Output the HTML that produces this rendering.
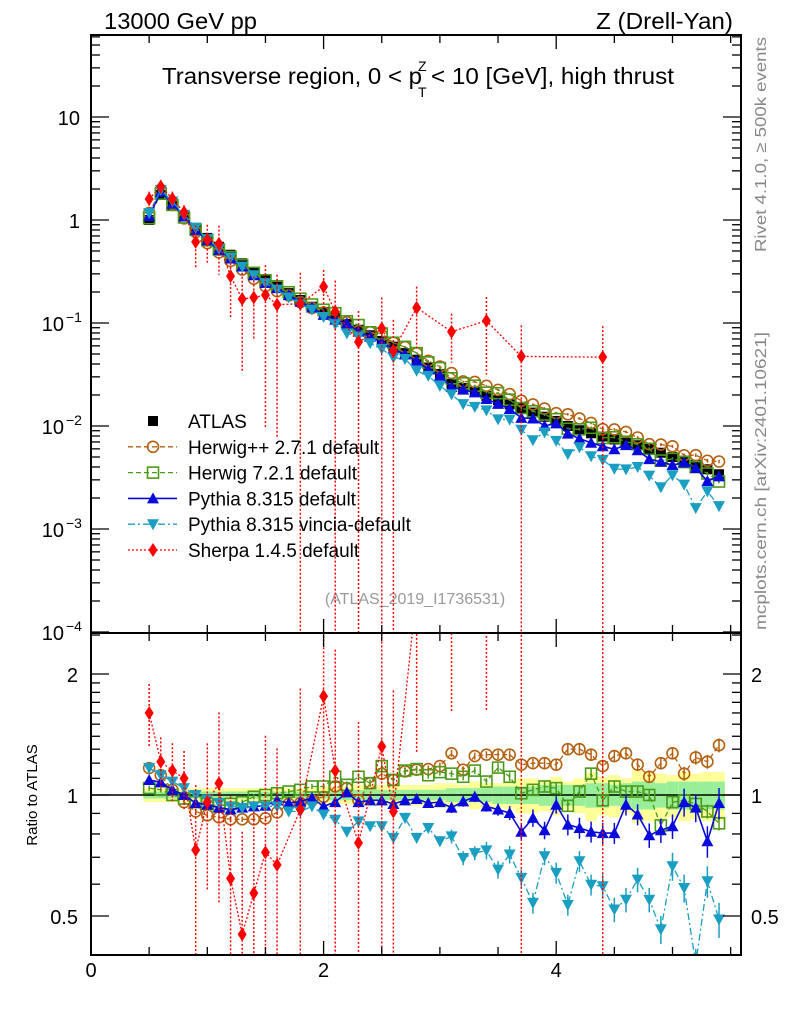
<!DOCTYPE html>
<html><head><meta charset="utf-8"><style>
html,body{margin:0;padding:0;background:#fff;width:786px;height:1024px;overflow:hidden;}
svg{display:block;font-family:"Liberation Sans",Arial,sans-serif;}
</style></head><body>
<svg id="chart" width="786" height="1024" viewBox="0 0 786 1024" xmlns="http://www.w3.org/2000/svg">
<defs>
<clipPath id="clipMain"><rect x="91" y="35" width="650" height="598"/></clipPath>
<clipPath id="clipRat"><rect x="91" y="633" width="650" height="322"/></clipPath>
</defs>
<text x="104" y="29" font-size="23" textLength="153" lengthAdjust="spacingAndGlyphs">13000 GeV pp</text>
<text x="596" y="29" font-size="23" textLength="137" lengthAdjust="spacingAndGlyphs">Z (Drell-Yan)</text>
<g>
<text x="162" y="84" font-size="23" textLength="260" lengthAdjust="spacingAndGlyphs">Transverse region, 0 &lt; p</text>
<text x="418" y="71" font-size="14">Z</text>
<text x="418" y="97" font-size="14">T</text>
<text x="431" y="84" font-size="23" textLength="243" lengthAdjust="spacingAndGlyphs">&lt; 10 [GeV], high thrust</text>
</g>
<text x="415" y="604" font-size="16" fill="#999" text-anchor="middle">(ATLAS_2019_I1736531)</text>
<text transform="translate(766,252) rotate(-90)" font-size="16" fill="#888" textLength="215" lengthAdjust="spacingAndGlyphs">Rivet 4.1.0, ≥ 500k events</text>
<text transform="translate(766,630) rotate(-90)" font-size="16" fill="#888" textLength="298" lengthAdjust="spacingAndGlyphs">mcplots.cern.ch [arXiv:2401.10621]</text>
<text transform="translate(37,795) rotate(-90)" font-size="15" text-anchor="middle">Ratio to ATLAS</text>
<g id="bands" clip-path="url(#clipRat)"></g>
<g id="marks"></g>
<g id="axes"></g>
<g id="legend"></g>
</svg>
<script>
const xCats = [0.5,0.6,0.7,0.8,0.9,1.0,1.1,1.2,1.3,1.4,1.5,1.6,1.7,1.8,1.9,2.0,2.1,2.2,2.3,2.4,2.5,2.6,2.7,2.8,2.9,3.0,3.1,3.2,3.3,3.4,3.5,3.6,3.7,3.8,3.9,4.0,4.1,4.2,4.3,4.4,4.5,4.6,4.7,4.8,4.9,5.0,5.1,5.2,5.3,5.4];
const atlasVals = [1.0,1.75,1.4,1.08,0.84,0.67,0.55,0.46,0.38,0.31,0.26,0.225,0.195,0.167,0.144,0.128,0.112,0.098,0.086,0.076,0.067,0.059,0.051,0.044,0.037,0.032,0.0257,0.0234,0.0214,0.0195,0.0178,0.0162,0.0148,0.0135,0.0123,0.0112,0.0100,0.0091,0.0085,0.0079,0.0074,0.0069,0.0065,0.0060,0.0055,0.0050,0.0046,0.0042,0.0038,0.0034];
const bandInner = [0.02,0.02,0.02,0.02,0.02,0.02,0.02,0.02,0.02,0.02,0.02,0.02,0.02,0.02,0.02,0.02,0.03,0.03,0.03,0.03,0.03,0.03,0.03,0.03,0.03,0.03,0.04,0.04,0.04,0.04,0.05,0.05,0.05,0.05,0.06,0.06,0.06,0.06,0.07,0.07,0.06,0.07,0.08,0.08,0.07,0.08,0.08,0.08,0.08,0.08];
const bandOuter = [0.04,0.04,0.04,0.04,0.04,0.04,0.04,0.04,0.04,0.04,0.04,0.04,0.04,0.04,0.04,0.05,0.05,0.05,0.06,0.06,0.06,0.06,0.06,0.06,0.06,0.07,0.07,0.06,0.08,0.07,0.07,0.08,0.10,0.10,0.09,0.11,0.08,0.10,0.14,0.11,0.12,0.10,0.15,0.14,0.13,0.12,0.14,0.13,0.14,0.14];
const hwppRatio = [1.167,1.12,1.03,0.96,0.91,0.89,0.88,0.87,0.87,0.87,0.875,0.905,0.95,0.955,0.97,0.99,1.05,1.04,0.97,1.07,1.13,1.09,1.145,1.156,1.16,1.18,1.27,1.156,1.25,1.26,1.26,1.26,1.19,1.2,1.2,1.19,1.30,1.30,1.26,1.18,1.25,1.27,1.19,1.11,1.2,1.27,1.13,1.24,1.21,1.33];
const hw7Ratio = [1.04,1.03,1.0,0.98,0.96,0.95,0.94,0.95,0.96,0.99,1.0,1.01,1.02,1.03,1.05,1.05,1.11,1.06,1.11,1.07,1.18,1.09,1.15,1.16,1.12,1.14,1.13,1.11,1.15,1.08,1.17,1.11,1.01,1.03,1.05,1.04,0.94,1.02,1.13,0.97,1.05,1.02,1.02,1.0,0.84,0.96,0.97,0.95,0.91,0.85];
const pyRatio = [1.09,1.075,1.03,1.0,0.955,0.946,0.93,0.92,0.93,0.937,0.94,0.97,0.955,0.964,0.983,0.937,0.96,1.015,0.96,0.97,0.97,0.95,0.97,0.977,0.955,0.96,0.93,0.964,0.99,0.937,0.92,0.902,0.81,0.877,0.817,0.946,0.844,0.828,0.81,0.804,0.804,0.946,0.894,0.794,0.817,0.836,0.96,0.93,0.767,0.955];
const pyErr = [0.02,0.02,0.02,0.02,0.02,0.02,0.02,0.02,0.02,0.02,0.02,0.02,0.02,0.02,0.02,0.02,0.02,0.02,0.02,0.02,0.02,0.02,0.02,0.02,0.025,0.025,0.03,0.03,0.03,0.03,0.035,0.04,0.05,0.05,0.05,0.05,0.06,0.06,0.06,0.06,0.06,0.06,0.06,0.07,0.07,0.07,0.08,0.08,0.09,0.09];
const vinRatio = [1.167,1.12,1.08,1.04,1.0,0.974,0.955,0.937,0.928,0.937,0.937,0.937,0.91,0.91,0.937,0.894,0.868,0.81,0.86,0.836,0.836,0.782,0.877,0.782,0.828,0.767,0.789,0.697,0.717,0.728,0.652,0.711,0.622,0.539,0.704,0.64,0.533,0.684,0.598,0.593,0.519,0.549,0.616,0.549,0.463,0.665,0.587,0.38,0.61,0.49];
const vinErr = [0.02,0.02,0.02,0.02,0.02,0.02,0.02,0.02,0.02,0.02,0.02,0.02,0.02,0.02,0.02,0.02,0.025,0.025,0.025,0.025,0.03,0.03,0.03,0.03,0.03,0.03,0.04,0.04,0.04,0.05,0.05,0.05,0.05,0.06,0.05,0.06,0.06,0.06,0.06,0.07,0.07,0.07,0.07,0.07,0.08,0.08,0.08,0.09,0.09,0.1];
const hwErr = [0.015,0.015,0.015,0.015,0.015,0.015,0.015,0.015,0.015,0.015,0.015,0.015,0.015,0.015,0.015,0.015,0.02,0.02,0.02,0.02,0.02,0.02,0.02,0.02,0.02,0.02,0.02,0.02,0.02,0.02,0.025,0.025,0.025,0.025,0.03,0.03,0.03,0.03,0.03,0.03,0.03,0.03,0.035,0.035,0.035,0.035,0.04,0.04,0.04,0.04];
const sherpaIdx = [0,1,2,3,4,5,6,7,8,9,10,11,13,15,16,18,20,21,23,26,29,32,39];
const sherpaRatio = [1.6,1.21,1.15,1.10,0.73,0.96,1.07,0.62,0.45,0.57,0.72,0.67,0.92,1.76,1.15,0.76,1.32,0.91,3.2,3.2,5.4,3.2,5.9];
const sherpaErr = [0.18,0.15,0.17,0.17,0.45,0.4,0.5,0.6,0.8,0.6,0.95,0.95,1.0,0.45,1.0,1.0,1.0,1.0,0.6,0.5,0.7,1.0,1.0];
const mainTickLabels = ["10","1","10","10","10","10"];
const ratioTickLabels = ["2","1","0.5"];
const xTickLabels = ["0","2","4"];

const NS="http://www.w3.org/2000/svg";
const X = v => 91 + v*116.3;
const YM = v => 220 - Math.log10(v)*103;
const YR = r => 795 - Math.log10(r)*402;
function mk(tag, attrs, parent){const e=document.createElementNS(NS,tag);for(const k in attrs)e.setAttribute(k,attrs[k]);parent.appendChild(e);return e;}
const bands=document.getElementById('bands'), marks=document.getElementById('marks'), axes=document.getElementById('axes'), legend=document.getElementById('legend');

xCats.forEach((x,i)=>{
  const y1=mk('rect',{x:X(x-0.05),width:116.3*0.1,y:YR(1+bandOuter[i]),height:YR(1-bandOuter[i])-YR(1+bandOuter[i]),fill:'#ffff99'},bands);
  
  
  const y2=mk('rect',{x:X(x-0.05),width:116.3*0.1,y:YR(1+bandInner[i]),height:YR(1-bandInner[i])-YR(1+bandInner[i]),fill:'#99ee99'},bands);
  
  
});
const one=mk('line',{x1:91,x2:741,y1:YR(1),y2:YR(1),stroke:'#000','stroke-width':1.5},bands);



function marker(kind,cx,cy,color,g){
  let e;
  if(kind==='sq') e=mk('rect',{x:cx-5,y:cy-5,width:10,height:10,fill:'#000'},g);
  else if(kind==='osq') e=mk('rect',{x:cx-5.5,y:cy-5.5,width:11,height:11,fill:'none',stroke:color,'stroke-width':1.6},g);
  else if(kind==='ocirc') e=mk('circle',{cx:cx,cy:cy,r:5.5,fill:'none',stroke:color,'stroke-width':1.6},g);
  else if(kind==='tri') e=mk('polygon',{points:`${cx-6},${cy+5} ${cx+6},${cy+5} ${cx},${cy-6}`,fill:color},g);
  else if(kind==='itri') e=mk('polygon',{points:`${cx-6},${cy-5} ${cx+6},${cy-5} ${cx},${cy+6}`,fill:color},g);
  else e=mk('polygon',{points:`${cx},${cy-7} ${cx+4.5},${cy} ${cx},${cy+7} ${cx-4.5},${cy}`,fill:color},g);
  return e;
}

function series(name,idx,ratios,errs,color,kind,dash,width){
  [['main',YM,'url(#clipMain)'],['ratio',YR,'url(#clipRat)']].forEach(([panel,Y,clip])=>{
    const g=mk('g',{'clip-path':clip},marks);
    
    
    const pts=idx.map((i,k)=>{
      const v = panel==='main'? atlasVals[i]*ratios[k] : ratios[k];
      return [X(xCats[i]),Y(v),v,errs[k]];
    });
    const pl=mk('polyline',{points:pts.map(p=>p[0]+','+p[1]).join(' '),fill:'none',stroke:color,'stroke-width':width,'stroke-dasharray':dash},g);
    
    
    pts.forEach(p=>{
      const lo=p[2]*(1-p[3]), hi=p[2]*(1+p[3]);
      const yl= lo>0? Y(lo):1000, yh=Y(hi);
      const eb=mk('line',{x1:p[0],x2:p[0],y1:yh,y2:yl,stroke:color,'stroke-width':1.5,'stroke-dasharray':name==='sherpa'?'2,2':'none'},g);
      
      
      const m=marker(kind,p[0],p[1],color,g);
      
      
    });
  });
}
const ag=mk('g',{'clip-path':'url(#clipMain)'},marks);


xCats.forEach((x,i)=>{
  const m=marker('sq',X(x),YM(atlasVals[i]),'#000',ag);
  
  
});
const all=xCats.map((x,i)=>i);
series('herwigpp',all,hwppRatio,hwErr,'#b5600f','ocirc','5,3',1.3);
series('herwig7',all,hw7Ratio,hwErr,'#4c9a1a','osq','5,3',1.3);
series('pythia',all,pyRatio,pyErr,'#0a0adc','tri','none',1.6);
series('vincia',all,vinRatio,vinErr,'#1a9ec2','itri','7,3,2,3',1.3);
series('sherpa',sherpaIdx,sherpaRatio,sherpaErr,'#ff0000','dia','2,2',1.3);

[[35,633,'main-plot-frame'],[633,955,'ratio-plot-frame']].forEach(([t,b,n])=>{
  const r=mk('rect',{x:91,y:t,width:650,height:b-t,fill:'none',stroke:'#000','stroke-width':2},axes);
  
  
});
function tick(x1,y1,x2,y2){const t=mk('line',{x1,y1,x2,y2,stroke:'#000','stroke-width':1.3},axes);}
for(let k=0;k<=11;k++){const v=k*0.5;const px=X(v);if(px>741)break;const L=(k%4===0)?14:8;
  tick(px,955,px,955-L);tick(px,633,px,633-L);tick(px,633,px,633+L);tick(px,35,px,35+L);}
xTickLabels.forEach((s,k)=>{const t=mk('text',{x:X(k*2),y:977,'font-size':20,'text-anchor':'middle'},axes);t.textContent=s;});
for(let d=-4;d<=1;d++){for(let m=1;m<=9;m++){const v=m*Math.pow(10,d);const py=YM(v);if(py<35||py>633)continue;const L=m===1?18:9;tick(91,py,91+L,py);tick(741,py,741-L,py);}}
[10,1,0.1,0.01,0.001,0.0001].forEach((v,k)=>{
  const t=mk('text',{x:k<2?80:64,y:YM(v)+8,'font-size':20,'text-anchor':'end'},axes);
  t.textContent=mainTickLabels[k];
  
  
  if(k>=2){const s=mk('text',{x:66,y:YM(v)-1,'font-size':14},axes);s.textContent='−'+(k-1);}
});
[0.4,0.5,0.6,0.7,0.8,0.9,1,1.1,1.2,1.3,1.4,1.5,1.6,1.7,1.8,1.9,2,2.5].forEach(v=>{const py=YR(v);const L=(v===0.5||v===1||v===2)?18:9;tick(91,py,91+L,py);tick(741,py,741-L,py);});
[2,1,0.5].forEach((v,k)=>{
  const t=mk('text',{x:78,y:YR(v)+8,'font-size':20,'text-anchor':'end'},axes);t.textContent=ratioTickLabels[k];
  
  
  const t2=mk('text',{x:751,y:YR(v)+8,'font-size':20},axes);t2.textContent=ratioTickLabels[k];
  
  
});
const leg=[['ATLAS','#000','sq','none',0],['Herwig++ 2.7.1 default','#b5600f','ocirc','5,3',1.3],['Herwig 7.2.1 default','#4c9a1a','osq','5,3',1.3],['Pythia 8.315 default','#0a0adc','tri','none',1.6],['Pythia 8.315 vincia-default','#1a9ec2','itri','7,3,2,3',1.3],['Sherpa 1.4.5 default','#ff0000','dia','2,2',1.3]];
leg.forEach((l,k)=>{
  const y=421+k*25.8;
  const g=mk('g',{},legend);
  
  
  if(l[4]>0) mk('line',{x1:128,x2:177,y1:y,y2:y,stroke:l[1],'stroke-width':l[4],'stroke-dasharray':l[3]},g);
  marker(l[2],153,y,l[1],g);
  const t=mk('text',{x:188,y:y+7,'font-size':19},g);t.textContent=l[0];
});
</script>
</body></html>
